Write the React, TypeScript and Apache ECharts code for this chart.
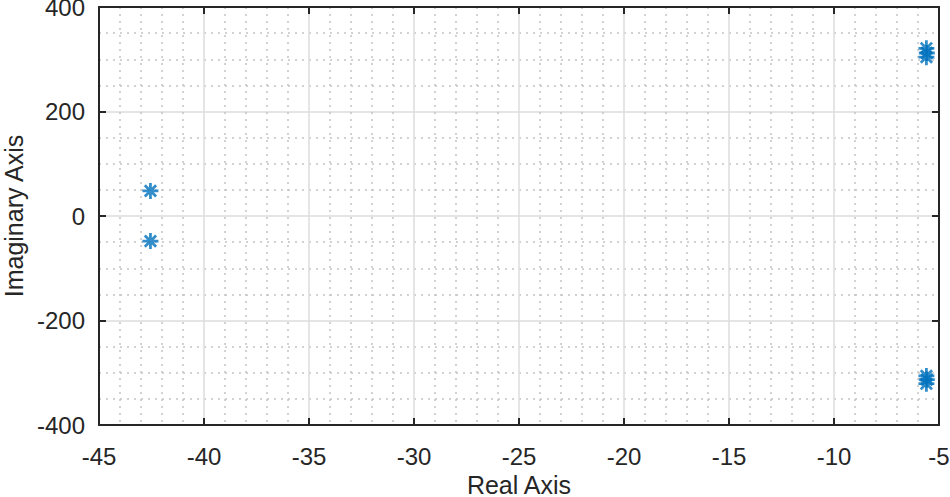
import React, { useEffect, useRef } from "react";
import * as echarts from "echarts";

const poleRe = [-42.55, -42.55, -5.6, -5.58, -5.6, -5.6, -5.58, -5.6];
const poleIm = [48, -48, 321, 312, 304, -321, -313, -306];
const xTicks = [-45, -40, -35, -30, -25, -20, -15, -10, -5];
const yTicks = [-400, -200, 0, 200, 400];

const axisColor = "#262626";
const font = "Liberation Sans, Arial, Helvetica, sans-serif";

export default function App() {
  const ref = useRef<HTMLDivElement>(null);
  useEffect(() => {
    if (!ref.current) return;
    const chart = echarts.init(ref.current, undefined, { renderer: "svg" });
    const points = poleRe.map((r, i) => [r, poleIm[i]]);
    const star =
      "path://M0,-8L0,8M-8,0L8,0M-5.66,-5.66L5.66,5.66M-5.66,5.66L5.66,-5.66";
    const common = {
      axisLine: { show: true, onZero: false, lineStyle: { color: axisColor, width: 2 } },
      axisTick: { show: true, inside: true, length: 7, lineStyle: { color: axisColor, width: 2 } },
    };
    chart.setOption({
      animation: false,
      backgroundColor: "#ffffff",
      grid: {
        left: 99,
        right: 11,
        top: 7,
        bottom: 72,
        containLabel: false,
        outerBoundsMode: "none",
      },
      xAxis: [
        {
          type: "value",
          min: xTicks[0],
          max: xTicks[xTicks.length - 1],
          interval: 5,
          name: "Real Axis",
          nameLocation: "middle",
          nameGap: 49,
          nameTextStyle: { fontSize: 25, lineHeight: 22, color: axisColor, fontFamily: font },
          ...common,
          axisLabel: { fontSize: 24, color: axisColor, fontFamily: font, margin: 19 },
          splitLine: { show: true, lineStyle: { color: "#dcdcdc", width: 1.5 } },
          minorTick: { show: false, splitNumber: 5 },
          minorSplitLine: { show: true, lineStyle: { color: "#c4c4c4", width: 1.5, type: [2, 5] } },
        },
        {
          type: "value",
          position: "top",
          min: xTicks[0],
          max: xTicks[xTicks.length - 1],
          interval: 5,
          ...common,
          axisLabel: { show: false },
          splitLine: { show: false },
        },
      ],
      yAxis: [
        {
          type: "value",
          min: yTicks[0],
          max: yTicks[yTicks.length - 1],
          interval: 200,
          name: "Imaginary Axis",
          nameLocation: "middle",
          nameGap: 72,
          nameTextStyle: { fontSize: 25, lineHeight: 22, color: axisColor, fontFamily: font },
          ...common,
          axisLabel: {
            fontSize: 24,
            lineHeight: 18,
            padding: [4, 0, 0, 0],
            color: axisColor,
            fontFamily: font,
            margin: 14,
          },
          splitLine: { show: true, lineStyle: { color: "#dcdcdc", width: 1.5 } },
          minorTick: { show: false, splitNumber: 4 },
          minorSplitLine: { show: true, lineStyle: { color: "#c4c4c4", width: 1.5, type: [2, 5] } },
        },
        {
          type: "value",
          position: "right",
          min: yTicks[0],
          max: yTicks[yTicks.length - 1],
          interval: 200,
          ...common,
          axisLabel: { show: false },
          splitLine: { show: false },
        },
      ],
      series: [
        {
          type: "scatter",
          data: points,
          symbol: star,
          symbolSize: 16,
          itemStyle: { color: "rgba(0,0,0,0)", borderColor: "#0072BD", borderWidth: 2.8 },
          clip: false,
        },
      ],
    });
    return () => chart.dispose();
  }, []);
  return (
    <div
      ref={ref}
      style={{ position: "absolute", left: 0, top: 0, width: 950, height: 497 }}
    />
  );
}
